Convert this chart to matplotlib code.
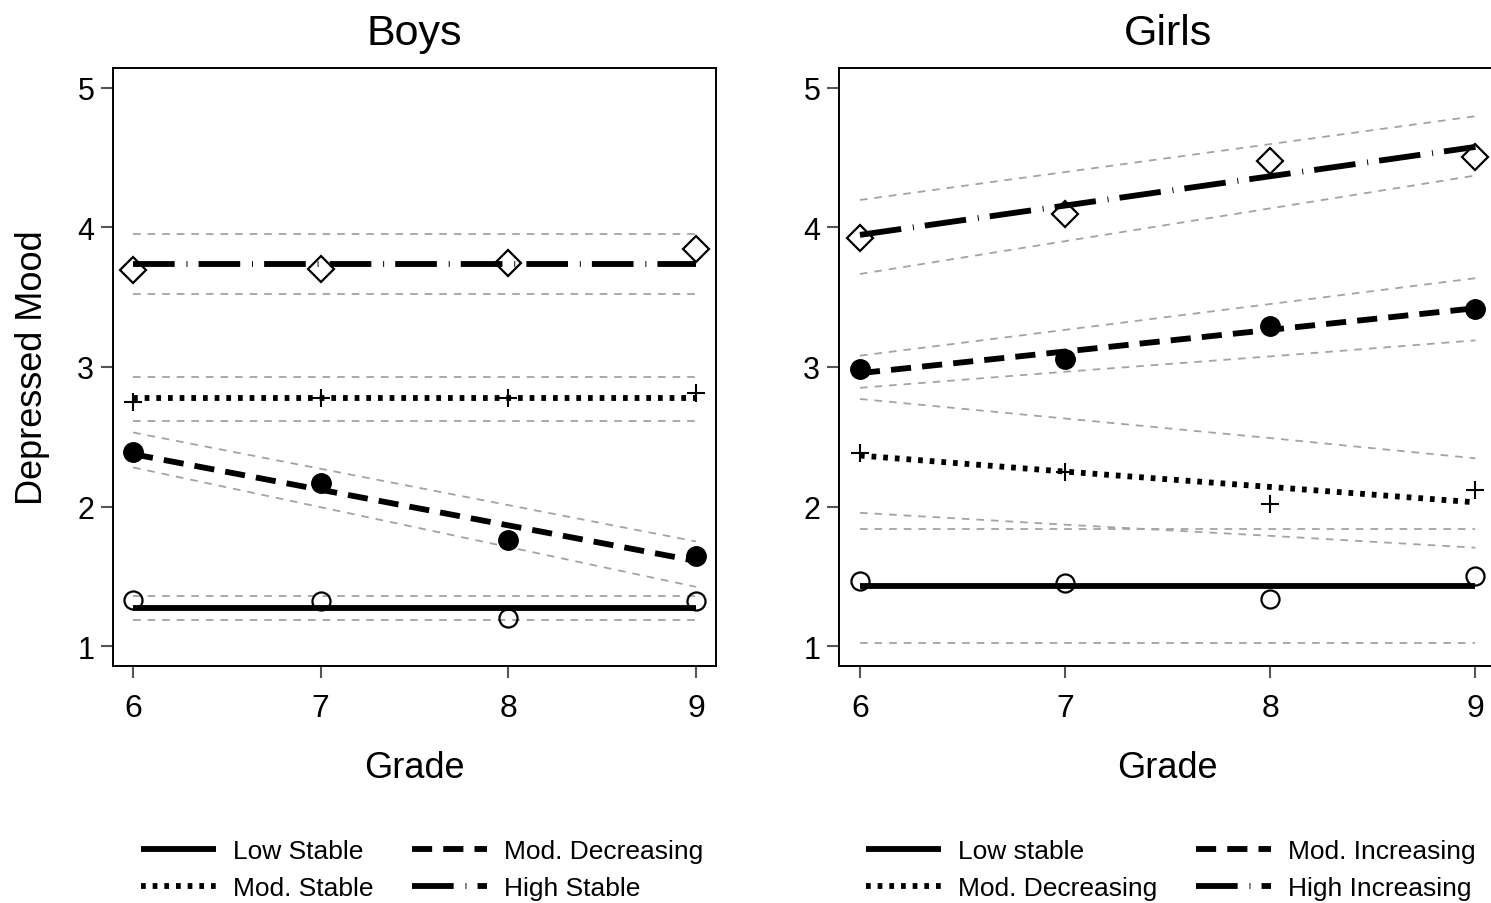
import matplotlib
matplotlib.use("Agg")
import matplotlib.pyplot as plt

plt.rcParams["font.family"] = ["Liberation Sans", "DejaVu Sans"]
plt.rcParams["lines.scale_dashes"] = False

# Data
grades = [6, 7, 8, 9]

# Boys: observed means, fitted trajectory, CI bounds
boys_low_obs = [1.33, 1.32, 1.20, 1.32]
boys_low_fit = [1.275, 1.275, 1.275, 1.275]
boys_low_hi = [1.36, 1.36, 1.36, 1.36]
boys_low_lo = [1.19, 1.19, 1.19, 1.19]

boys_modst_obs = [2.745, 2.775, 2.775, 2.815]
boys_modst_fit = [2.78, 2.78, 2.78, 2.78]
boys_modst_hi = [2.93, 2.93, 2.93, 2.93]
boys_modst_lo = [2.61, 2.61, 2.61, 2.61]

boys_moddec_obs = [2.39, 2.17, 1.76, 1.645]
boys_moddec_fit = [2.375, 2.12, 1.865, 1.61]
boys_moddec_hi = [2.53, 2.27, 2.01, 1.75]
boys_moddec_lo = [2.28, 1.995, 1.71, 1.425]

boys_high_obs = [3.695, 3.70, 3.745, 3.845]
boys_high_fit = [3.74, 3.74, 3.74, 3.74]
boys_high_hi = [3.95, 3.95, 3.95, 3.95]
boys_high_lo = [3.525, 3.525, 3.525, 3.525]

# Girls
girls_low_obs = [1.465, 1.455, 1.335, 1.505]
girls_low_fit = [1.43, 1.43, 1.43, 1.43]
girls_low_hi = [1.84, 1.84, 1.84, 1.84]
girls_low_lo = [1.02, 1.02, 1.02, 1.02]

girls_moddec_obs = [2.38, 2.25, 2.02, 2.12]
girls_moddec_fit = [2.365, 2.25, 2.14, 2.03]
girls_moddec_hi = [2.77, 2.63, 2.49, 2.345]
girls_moddec_lo = [1.955, 1.87, 1.79, 1.705]

girls_modinc_obs = [2.985, 3.055, 3.295, 3.415]
girls_modinc_fit = [2.955, 3.11, 3.265, 3.42]
girls_modinc_hi = [3.08, 3.265, 3.45, 3.635]
girls_modinc_lo = [2.85, 2.965, 3.075, 3.19]

girls_high_obs = [3.925, 4.095, 4.475, 4.505]
girls_high_fit = [3.945, 4.155, 4.365, 4.575]
girls_high_hi = [4.195, 4.395, 4.595, 4.795]
girls_high_lo = [3.665, 3.90, 4.135, 4.37]

boys_labels = ["Low Stable", "Mod. Stable", "Mod. Decreasing", "High Stable"]
girls_labels = ["Low stable", "Mod. Decreasing", "Mod. Increasing", "High Increasing"]

# styles per class (order: low, dotted, dashed, dash-dot)
LW = 4.2
line_styles = [
    dict(linestyle="-"),
    dict(dashes=(3.4, 5.0)),
    dict(dashes=(14.5, 8)),
    dict(dashes=(30, 8.5, 0.7, 8)),
]
marker_styles = [
    dict(marker="o", ms=13, mfc="none", mec="black", mew=1.6),
    dict(marker="+", ms=13, mec="black", mew=1.5),
    dict(marker="o", ms=14, mfc="black", mec="black"),
    dict(marker="D", ms=13, mfc="none", mec="black", mew=1.6),
]
CI_KW = dict(color="#a3a3a3", lw=1.3, dashes=(5.5, 5))

W, H = 1491, 904
fig = plt.figure(figsize=(W / 100, H / 100), dpi=100)


def px_axes(l, t, r, b):
    return fig.add_axes([l / W, 1 - b / H, (r - l) / W, (b - t) / H])


def draw_panel(ax, title, series, labels, xlim):
    handles = []
    for i, (obs, fit, hi, lo) in enumerate(series):
        ax.plot(grades, hi, **CI_KW)
        ax.plot(grades, lo, **CI_KW)
        ax.plot(grades, obs, linestyle="none", **marker_styles[i])
        h, = ax.plot(grades, fit, color="black", lw=LW, solid_capstyle="butt",
                     dash_capstyle="butt", label=labels[i], **line_styles[i])
        handles.append(h)
    ax.set_xlim(*xlim)
    ax.set_ylim(0.858, 5.14)
    ax.set_xticks(grades)
    ax.set_yticks([1, 2, 3, 4, 5])
    ax.set_title(title, fontsize=31, pad=17)
    ax.set_xlabel("Grade", fontsize=26)
    ax.xaxis.set_label_coords(0.5, -0.14)
    for s in ["left", "bottom", "top", "right"]:
        ax.spines[s].set_linewidth(1.4)
    ax.tick_params(axis="both", direction="out", length=8.5, width=1.5,
                   color="#555555")
    ax.tick_params(axis="x", labelsize=23, pad=11)
    ax.tick_params(axis="y", labelsize=22, pad=5)
    return handles


ax_b = px_axes(113, 69, 716, 667)
ax_g = px_axes(839, 69, 1496, 667)

boys_series = [
    (boys_low_obs, boys_low_fit, boys_low_hi, boys_low_lo),
    (boys_modst_obs, boys_modst_fit, boys_modst_hi, boys_modst_lo),
    (boys_moddec_obs, boys_moddec_fit, boys_moddec_hi, boys_moddec_lo),
    (boys_high_obs, boys_high_fit, boys_high_hi, boys_high_lo),
]
girls_series = [
    (girls_low_obs, girls_low_fit, girls_low_hi, girls_low_lo),
    (girls_moddec_obs, girls_moddec_fit, girls_moddec_hi, girls_moddec_lo),
    (girls_modinc_obs, girls_modinc_fit, girls_modinc_hi, girls_modinc_lo),
    (girls_high_obs, girls_high_fit, girls_high_hi, girls_high_lo),
]

hb = draw_panel(ax_b, "Boys", boys_series, boys_labels, (5.893, 9.107))
hg = draw_panel(ax_g, "Girls", girls_series, girls_labels, (5.898, 9.1))

ax_b.set_ylabel("Depressed Mood", fontsize=26, va="center", ha="center")
ax_b.yaxis.set_label_coords(-0.134, 0.5)

leg_kw = dict(loc="upper left", ncol=2, frameon=False, fontsize=19,
              handlelength=2.85, handletextpad=0.65, columnspacing=1.45,
              labelspacing=0.5, borderpad=0, borderaxespad=0,
              bbox_transform=fig.transFigure)
fig.legend(handles=hb, bbox_to_anchor=(141 / W, 1 - 840 / H), **leg_kw)
fig.legend(handles=hg, bbox_to_anchor=(866 / W, 1 - 840 / H), **leg_kw)

fig.savefig("out.png", dpi=100)
